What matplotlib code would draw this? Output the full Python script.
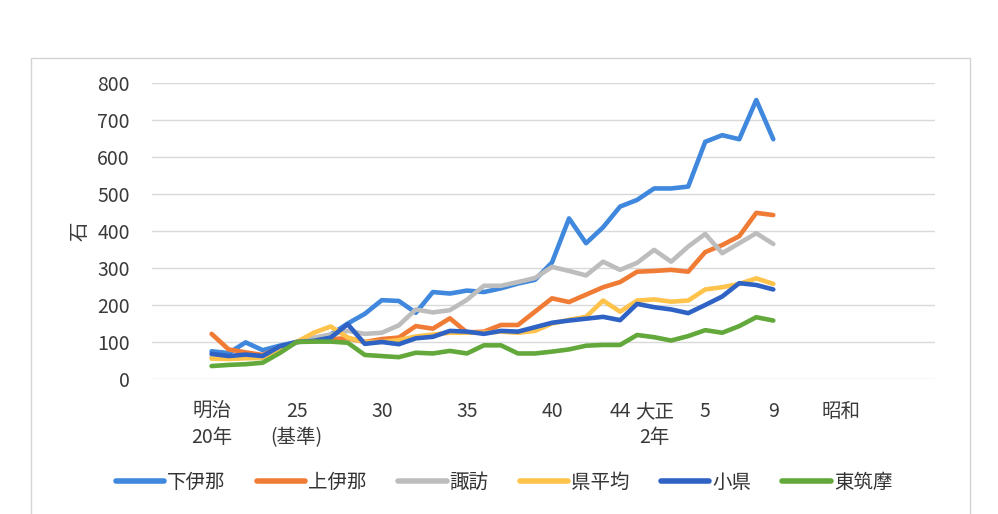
import matplotlib.pyplot as plt
from matplotlib.patches import Rectangle

plt.rcParams['font.family'] = ['Noto Sans CJK JP', 'DejaVu Sans']

# years from meiji 20 (1887) to taisho 9 (1920)
years = list(range(1887, 1921))

shimoina = [75, 70, 99, 78, 90, 100, 108, 120, 150, 176, 213, 211, 179, 235, 231, 239, 235, 245, 258, 268,
            315, 434, 367, 410, 466, 484, 515, 515, 520, 641, 659, 648, 754, 648]
kamiina = [122, 80, 72, 65, 85, 100, 105, 108, 110, 100, 108, 112, 143, 136, 164, 126, 128, 146, 146, 182,
           218, 208, 228, 248, 262, 290, 292, 295, 290, 343, 362, 386, 449, 443]
suwa = [60, 60, 62, 60, 85, 100, 112, 120, 130, 122, 125, 145, 188, 180, 186, 214, 252, 252, 262, 273,
        303, 292, 280, 317, 295, 314, 349, 317, 358, 392, 340, 367, 394, 365]
ken_heikin = [55, 54, 56, 57, 80, 100, 125, 142, 112, 100, 100, 105, 115, 120, 125, 125, 125, 128, 125, 130,
              150, 160, 168, 212, 182, 212, 215, 209, 212, 242, 248, 257, 272, 257]
chiisagata = [68, 62, 66, 62, 88, 100, 103, 112, 148, 95, 100, 94, 110, 114, 130, 128, 122, 130, 128, 140,
              152, 158, 163, 168, 159, 203, 194, 188, 178, 200, 223, 259, 254, 242]
higashichikuma = [35, 38, 40, 44, 70, 100, 101, 101, 98, 65, 62, 59, 71, 69, 76, 69, 91, 91, 69, 69,
                  74, 80, 90, 92, 92, 119, 113, 104, 116, 132, 125, 143, 167, 158]

series_names = ['下伊那', '上伊那', '諏訪', '県平均', '小県', '東筑摩']
series_values = [shimoina, kamiina, suwa, ken_heikin, chiisagata, higashichikuma]
series_colors = ['#3F88DD', '#F07B35', '#BDBDBD', '#FFC24B', '#2E62C4', '#62A83A']

tick_years = [1887, 1892, 1897, 1902, 1907, 1911, 1913, 1916, 1920, 1924]
tick_labels = ['明治\n20年', '25\n(基準)', '30', '35', '40', '44', '大正\n2年', '5', '9', '昭和']

fig = plt.figure(figsize=(9.98, 5.14), dpi=100)
fig.patch.set_facecolor('white')

# light frame around the chart area like the excel chart
fig.patches.append(Rectangle((31 / 998, -0.02), (970 - 31) / 998, 1 - 58 / 514 + 0.02,
                             transform=fig.transFigure, fill=False, edgecolor='#d4d4d4', linewidth=1))

ax = fig.add_axes([152 / 998, 1 - 379 / 514, (935 - 152) / 998, (379 - 83) / 514])
ax.set_facecolor('none')

for name, vals, col in zip(series_names, series_values, series_colors):
    ax.plot(years, vals, color=col, linewidth=3.3, label=name,
            solid_joinstyle='round', solid_capstyle='round')

ax.set_xlim(1883.5, 1929.5)
ax.set_ylim(0, 800)
ax.set_yticks(range(0, 801, 100))
ax.set_xticks(tick_years)
ax.set_xticklabels(tick_labels, linespacing=1.3)

ax.grid(axis='y', color='#d9d9d9', linewidth=1)
ax.set_axisbelow(True)
for s in ax.spines.values():
    s.set_visible(False)

ax.tick_params(axis='both', length=0, labelsize=14, colors='#3a3a3a')
ax.tick_params(axis='y', pad=16)
ax.tick_params(axis='x', pad=16)

ax.set_ylabel('石', fontsize=14, color='#3a3a3a', labelpad=5)

leg = fig.legend(loc='center', bbox_to_anchor=(0.505, 1 - 482 / 514), ncol=6, frameon=False,
                 fontsize=14, handlelength=2.5, handletextpad=0.15, columnspacing=1.6,
                 labelcolor='#333333')
for h in leg.get_lines():
    h.set_linewidth(4)

fig.savefig('out.png', dpi=100)
